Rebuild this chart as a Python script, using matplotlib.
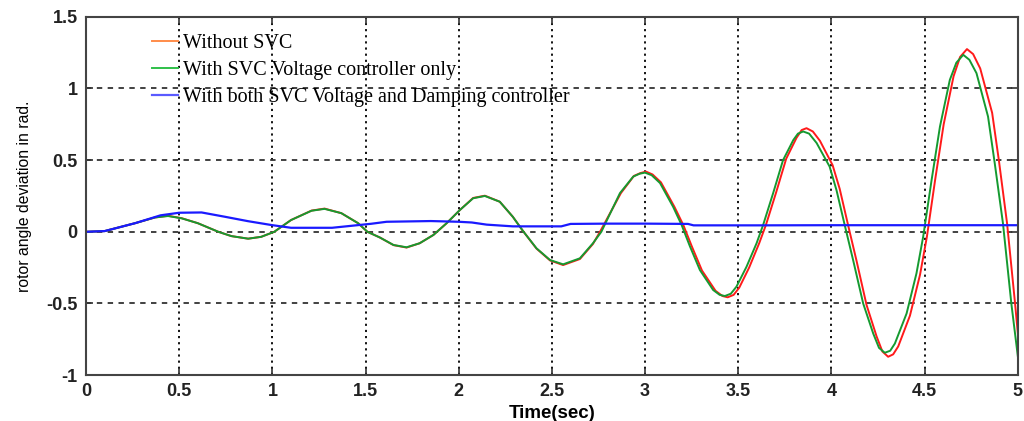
import numpy as np
import matplotlib
matplotlib.use("Agg")
import matplotlib.pyplot as plt

# rotor angle deviation (rad)
t_green = [0, 0.1, 0.263, 0.37, 0.44, 0.513, 0.60, 0.71, 0.78, 0.87, 0.94, 1.01,
           1.10, 1.21, 1.28, 1.37, 1.46, 1.51, 1.577, 1.65, 1.72, 1.79, 1.864,
           1.935, 2.006, 2.077, 2.14, 2.22, 2.29, 2.345, 2.417, 2.49, 2.56, 2.65,
           2.72, 2.765, 2.865, 2.936, 2.97, 2.999, 3.035, 3.08, 3.15, 3.196, 3.24,
           3.294, 3.365, 3.40, 3.428, 3.46, 3.49, 3.544, 3.598, 3.633, 3.687, 3.74,
           3.795, 3.82, 3.848, 3.88, 3.92, 3.99, 4.027, 4.071, 4.116, 4.17, 4.224,
           4.255, 4.286, 4.315, 4.34, 4.403, 4.456, 4.492, 4.537, 4.582, 4.635,
           4.67, 4.707, 4.74, 4.778, 4.84, 4.876, 4.92, 4.965, 5.0]
v_green = [0, 0.005, 0.06, 0.10, 0.11, 0.094, 0.06, 0.0, -0.03, -0.048, -0.035, 0.0,
           0.082, 0.147, 0.16, 0.13, 0.06, 0.0, -0.04, -0.092, -0.108, -0.08, -0.022,
           0.06, 0.152, 0.234, 0.25, 0.21, 0.105, 0.005, -0.115, -0.197, -0.227, -0.185,
           -0.08, 0.0, 0.27, 0.385, 0.405, 0.413, 0.395, 0.34, 0.175, 0.047, -0.10,
           -0.267, -0.406, -0.44, -0.448, -0.432, -0.383, -0.244, -0.08, 0.047, 0.27, 0.50,
           0.64, 0.685, 0.70, 0.685, 0.62, 0.455, 0.29, 0.047, -0.197, -0.5, -0.71,
           -0.81, -0.844, -0.83, -0.78, -0.57, -0.29, -0.034, 0.36, 0.734, 1.06,
           1.18, 1.235, 1.20, 1.107, 0.804, 0.478, 0.06, -0.5, -0.87]

t_red = [0, 0.1, 0.263, 0.37, 0.44, 0.513, 0.60, 0.71, 0.78, 0.87, 0.94, 1.01,
         1.10, 1.21, 1.28, 1.37, 1.46, 1.51, 1.577, 1.65, 1.72, 1.79, 1.864,
         1.935, 2.006, 2.077, 2.14, 2.22, 2.29, 2.345, 2.417, 2.49, 2.56, 2.65,
         2.72, 2.76, 2.87, 2.94, 2.975, 3.005, 3.04, 3.085, 3.157, 3.205, 3.25,
         3.305, 3.378, 3.415, 3.443, 3.475, 3.505, 3.558, 3.612, 3.648, 3.703, 3.757,
         3.812, 3.84, 3.866, 3.90, 3.938, 4.006, 4.044, 4.089, 4.134, 4.188, 4.242,
         4.273, 4.304, 4.331, 4.358, 4.421, 4.475, 4.512, 4.557, 4.602, 4.655,
         4.69, 4.727, 4.76, 4.798, 4.862, 4.898, 4.942, 4.985, 5.0]
v_red = [0, 0.005, 0.06, 0.10, 0.112, 0.095, 0.06, 0.0, -0.03, -0.048, -0.035, 0.0,
         0.082, 0.148, 0.162, 0.13, 0.06, 0.0, -0.04, -0.093, -0.11, -0.08, -0.022,
         0.06, 0.152, 0.236, 0.252, 0.21, 0.105, 0.005, -0.117, -0.2, -0.232, -0.19,
         -0.085, 0.005, 0.27, 0.39, 0.41, 0.42, 0.40, 0.345, 0.175, 0.047, -0.10,
         -0.27, -0.412, -0.448, -0.457, -0.44, -0.39, -0.25, -0.08, 0.047, 0.275, 0.51,
         0.655, 0.71, 0.723, 0.70, 0.635, 0.465, 0.30, 0.047, -0.20, -0.51, -0.73,
         -0.835, -0.872, -0.855, -0.80, -0.585, -0.30, -0.034, 0.37, 0.75, 1.085,
         1.22, 1.275, 1.24, 1.14, 0.83, 0.50, 0.06, -0.5, -0.71]

t_blue = [0, 0.1, 0.263, 0.4, 0.5, 0.62, 0.745, 0.87, 0.996, 1.10, 1.32, 1.425,
          1.53, 1.613, 1.85, 2.0, 2.07, 2.15, 2.29, 2.55, 2.6, 2.8, 3.0, 3.23,
          3.26, 3.6, 4.0, 4.5, 5.0]
v_blue = [0, 0.005, 0.06, 0.115, 0.133, 0.135, 0.105, 0.074, 0.047, 0.028, 0.028,
          0.042, 0.056, 0.07, 0.075, 0.07, 0.065, 0.05, 0.038, 0.038, 0.055, 0.057,
          0.057, 0.055, 0.045, 0.045, 0.046, 0.046, 0.046]

labels = ["Without SVC", "With SVC Voltage controller only",
          "With both SVC Voltage and Damping controller"]

fig = plt.figure(figsize=(10.24, 4.21), dpi=100)
ax = fig.add_axes([0.084, 0.109, 0.910, 0.851])

l1, = ax.plot(t_red, v_red, color="#ff1a1a", lw=1.4, label=labels[0])
l2, = ax.plot(t_green, v_green, color="#159a30", lw=1.4, label=labels[1])
l3, = ax.plot(t_blue, v_blue, color="#1a1aff", lw=1.6, label=labels[2])

ax.set_xlim(0, 5)
ax.set_ylim(-1, 1.5)
ax.set_xticks(np.arange(0, 5.01, 0.5))
ax.set_yticks(np.arange(-1, 1.51, 0.5))
ax.set_xticklabels(["0", "0.5", "1", "1.5", "2", "2.5", "3", "3.5", "4", "4.5", "5"])
ax.set_yticklabels(["-1", "-0.5", "0", "0.5", "1", "1.5"])

ax.xaxis.grid(True, linestyle=(0, (1.2, 2.2)), color="black", lw=1.3)
ax.yaxis.grid(True, linestyle=(0, (3, 3)), color="#333333", lw=1.3)
ax.tick_params(direction="in", length=5, width=1.2, top=True, right=True,
               colors="#333333", labelcolor="#222222", pad=6)
for lab in ax.get_xticklabels() + ax.get_yticklabels():
    lab.set_fontfamily("Liberation Sans")
    lab.set_fontweight("bold")
    lab.set_fontsize(13)
for s in ax.spines.values():
    s.set_color("#444444")
    s.set_linewidth(1.5)

ax.set_xlabel("Time(sec)", fontfamily="Liberation Sans", fontweight="bold",
              fontsize=13.5, labelpad=3)
ax.set_ylabel("rotor angle deviation in rad.", fontfamily="Liberation Sans",
              fontsize=11.3, labelpad=10)

leg = ax.legend(handles=[l1, l2, l3], loc="upper left", bbox_to_anchor=(0.0708, 0.952),
                frameon=False, borderpad=0, borderaxespad=0, handlelength=1.3,
                handletextpad=0.25, labelspacing=0.4,
                prop={"family": "Liberation Serif", "size": 14.5})
leg.legend_handles[0].set_color("#ff8c4a")
leg.legend_handles[1].set_color("#2fc04a")
leg.legend_handles[2].set_color("#5a5aff")

plt.savefig("out.png", dpi=100)
